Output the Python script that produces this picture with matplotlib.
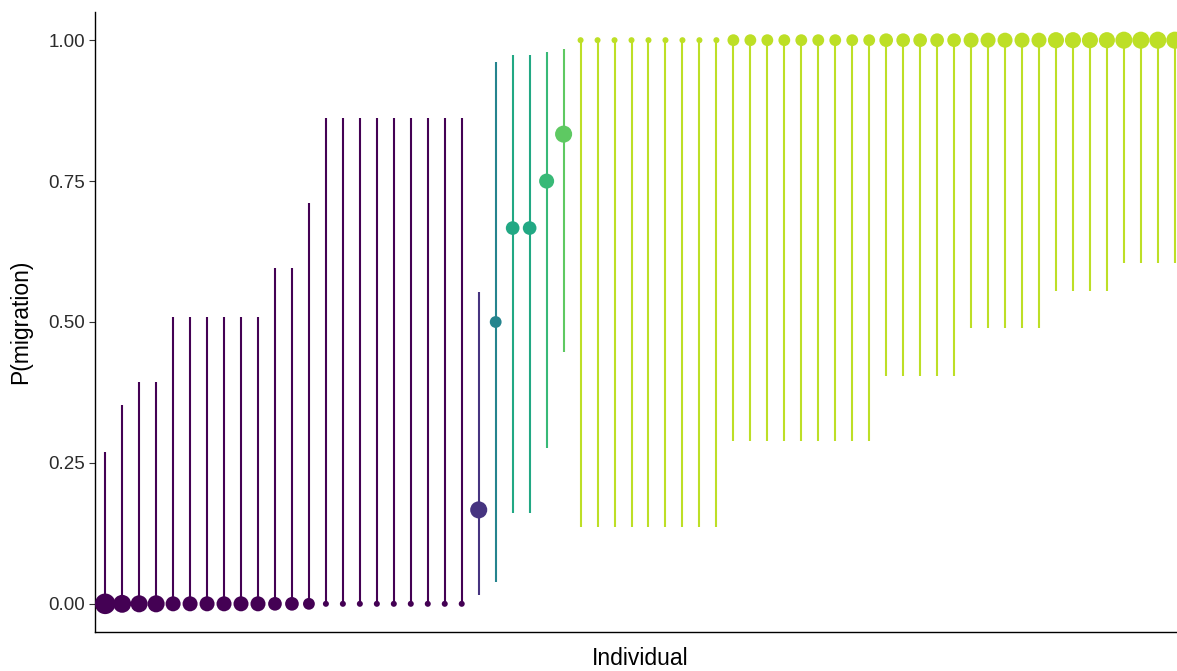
import numpy as np
import matplotlib.pyplot as plt
from matplotlib import cm

# per-individual migration probability with interval bounds and number of observations
prop = [0.0] * 22 + [1 / 6, 1 / 2, 2 / 3, 2 / 3, 3 / 4, 5 / 6] + [1.0] * 36
lower = ([0.0] * 22
         + [0.015, 0.038, 0.162, 0.162, 0.277, 0.446]
         + [0.137] * 9 + [0.289] * 9 + [0.404] * 5 + [0.490] * 5
         + [0.555] * 4 + [0.605] * 4)
upper = ([0.269, 0.353, 0.393, 0.393] + [0.508] * 6 + [0.595] * 2 + [0.711]
         + [0.862] * 9
         + [0.553, 0.962, 0.973, 0.973, 0.979, 0.984]
         + [1.0] * 36)
n_obs = ([11, 7, 6, 6] + [4] * 6 + [3] * 2 + [2] + [1] * 9
         + [6, 2, 3, 3, 4, 6]
         + [1] * 9 + [2] * 9 + [3] * 5 + [4] * 5 + [5] * 4 + [6] * 4)


def point_size(n):
	# marker radius in px grows with n, converted to scatter area (pt^2)
	n = np.asarray(n, dtype=float)
	frac = (n - n.min()) / (n.max() - n.min())
	r = 3.0 + 7.3 * frac ** 0.4
	return (2 * r * 0.72) ** 2


def main():
	plt.rcParams['font.family'] = ['Liberation Sans', 'DejaVu Sans']
	fig = plt.figure(figsize=(11.77, 6.71), dpi=100)
	ax = fig.add_axes([95 / 1177, 39 / 671, 1090 / 1177, 620 / 671])

	x = np.arange(len(prop))
	p = np.array(prop)
	colors = cm.viridis(0.9 * p)

	ax.vlines(x, lower, upper, colors=colors, linewidth=1.5, zorder=2)
	ax.scatter(x, p, s=point_size(n_obs), c=colors, linewidths=0, zorder=3)

	ax.set_xlim(-0.6, len(prop) - 0.4)
	ax.set_ylim(-0.05, 1.05)
	ax.set_xticks([])
	ax.set_yticks([0, 0.25, 0.5, 0.75, 1.0])
	ax.set_yticklabels(['0.00', '0.25', '0.50', '0.75', '1.00'])
	ax.tick_params(axis='y', length=4, width=0.8, color='#333333',
	               labelsize=13.5, labelcolor='#2b2b2b', pad=3)

	for side in ['top', 'right']:
		ax.spines[side].set_visible(False)
	for side in ['left', 'bottom']:
		ax.spines[side].set_linewidth(1.0)
		ax.spines[side].set_color('black')

	ax.set_xlabel('Individual', fontsize=16.5)
	ax.set_ylabel('P(migration)', fontsize=16.5)
	ax.xaxis.set_label_coords(0.5, -0.042)
	ax.yaxis.set_label_coords(-0.068, 0.5)
	ax.xaxis.label.set_va('center')
	ax.yaxis.label.set_va('center')

	fig.savefig('out.png', dpi=100)


if __name__ == "__main__":
	main()
